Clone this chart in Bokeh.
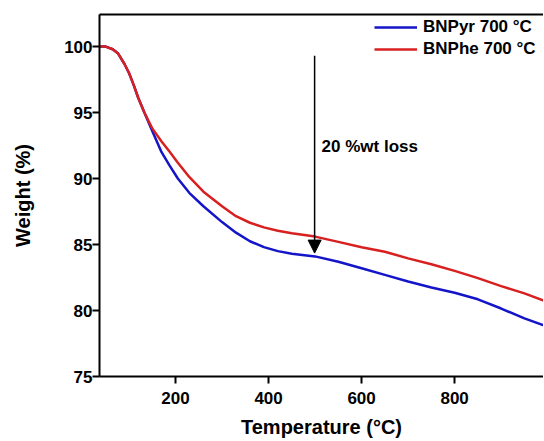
from bokeh.plotting import figure
from bokeh.models import (Range1d, LinearAxis, FixedTicker, Arrow, NormalHead,
                          Label, Legend, LegendItem)
from bokeh.embed import file_html
from bokeh.resources import INLINE

# ---- data ----
temp_c = [35, 50, 65, 76, 90, 100, 110, 120, 133, 150, 170, 187, 205, 230, 260,
          300, 330, 360, 390, 420, 450, 500, 550, 600, 650, 700, 750, 800, 850,
          900, 950, 990, 1000]
bnpyr_weight = [100.0, 100.0, 99.8, 99.5, 98.7, 98.0, 97.1, 96.1, 95.0, 93.6, 92.0,
                91.0, 90.0, 88.9, 87.9, 86.7, 85.9, 85.25, 84.8, 84.5, 84.3, 84.1,
                83.7, 83.2, 82.7, 82.2, 81.75, 81.35, 80.85, 80.15, 79.4, 78.9, 78.75]
bnphe_weight = [100.0, 100.0, 99.8, 99.5, 98.7, 98.0, 97.1, 96.1, 95.0, 93.8, 92.8,
                92.05, 91.2, 90.1, 89.0, 87.9, 87.15, 86.65, 86.3, 86.05, 85.85, 85.6,
                85.2, 84.8, 84.45, 83.95, 83.5, 83.0, 82.45, 81.85, 81.3, 80.77, 80.6]
series_names = ["BNPyr 700 \u00b0C", "BNPhe 700 \u00b0C"]
x_ticks = [200, 400, 600, 800]
y_ticks = [75, 80, 85, 90, 95, 100]
arrow_x = 499
arrow_top = 99.3
arrow_bottom = 84.35
annotation_text = "20 %wt loss"

FONT = "Liberation Sans"
BLUE = "#1414c8"
RED = "#d82020"

p = figure(width=543, height=440, output_backend="svg", toolbar_location=None,
           x_range=Range1d(36.6, 991), y_range=Range1d(75, 102.43),
           min_border_left=99, min_border_right=0, min_border_top=14,
           min_border_bottom=30)
p.outline_line_color = None
p.xgrid.visible = False
p.ygrid.visible = False
p.background_fill_color = "white"
p.border_fill_color = "white"

r1 = p.line(temp_c, bnpyr_weight, line_color=BLUE, line_width=2.5)
r2 = p.line(temp_c, bnphe_weight, line_color=RED, line_width=2.5)

for ax in (p.xaxis[0], p.yaxis[0]):
    ax.axis_line_width = 2
    ax.major_tick_line_width = 2
    ax.major_tick_in = 0
    ax.major_tick_out = 7
    ax.minor_tick_line_color = None
    ax.major_label_text_font = FONT
    ax.major_label_text_font_style = "bold"
    ax.major_label_text_font_size = "17px"
    ax.major_label_text_color = "black"
    ax.axis_label_text_font = FONT
    ax.axis_label_text_font_style = "bold"
    ax.axis_label_text_font_size = "20px"
    ax.axis_label_text_color = "black"

p.xaxis[0].ticker = FixedTicker(ticks=x_ticks)
p.yaxis[0].ticker = FixedTicker(ticks=y_ticks)
p.xaxis[0].axis_label = "Temperature (\u00b0C)"
p.yaxis[0].axis_label = "Weight (%)"
p.xaxis[0].major_label_standoff = 8
p.xaxis[0].axis_label_standoff = 9
p.yaxis[0].major_label_standoff = 0
p.yaxis[0].axis_label_standoff = 27

top_axis = LinearAxis(ticker=FixedTicker(ticks=[]), axis_line_width=2,
                      major_tick_out=0, major_tick_in=0, minor_tick_out=0,
                      minor_tick_in=0, major_label_text_font_size="0px")
p.add_layout(top_axis, "above")

arrow = Arrow(end=NormalHead(size=13, fill_color="black", line_color="black"),
              x_start=arrow_x, y_start=arrow_top, x_end=arrow_x, y_end=arrow_bottom,
              line_width=1.5, line_color="black")
p.add_layout(arrow)

lbl = Label(x=514, y=92.4, text=annotation_text, text_font=FONT,
            text_font_style="bold", text_font_size="17px", text_baseline="middle",
            text_color="black")
p.add_layout(lbl)

legend = Legend(items=[LegendItem(label=series_names[0], renderers=[r1]),
                       LegendItem(label=series_names[1], renderers=[r2])],
                location=(275, 317), border_line_color=None,
                background_fill_alpha=0, margin=0, padding=0, spacing=2,
                glyph_width=43, glyph_height=20, label_height=20,
                label_standoff=6, label_text_font=FONT, label_text_font_style="bold",
                label_text_font_size="17px", label_text_color="black")
p.add_layout(legend)

open("out.html", "w").write(file_html(p, INLINE))
